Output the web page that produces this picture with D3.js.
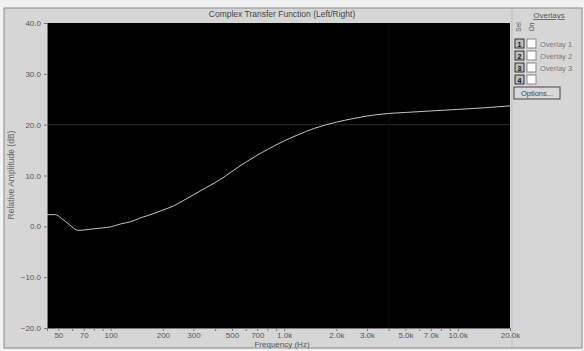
<!DOCTYPE html>
<html>
<head>
<meta charset="utf-8">
<script src="https://cdn.jsdelivr.net/npm/d3@7"></script>
<style>
  body { margin: 0; background: #fff; }
  svg { display: block; font-family: "Liberation Sans", Arial, sans-serif; }
</style>
</head>
<body>
<div id="chart"></div>
<script>
// Frequency response
var freqs = [43, 48, 52, 58, 65, 75, 90, 100, 115, 130, 150, 180, 200, 230, 260, 300, 350, 400, 450, 500,
             600, 700, 800, 1000, 1200, 1500, 2000, 2500, 3000, 4000, 5000, 7000, 10000, 14000, 20000];
var amps = [2.3, 2.3, 1.6, 0.3, -0.8, -0.6, -0.3, -0.1, 0.5, 0.9, 1.7, 2.6, 3.2, 4.0, 5.0, 6.2, 7.5, 8.6, 9.7, 10.8,
            12.6, 14.0, 15.1, 16.8, 18.0, 19.3, 20.5, 21.2, 21.7, 22.2, 22.4, 22.7, 23.0, 23.3, 23.7];

var yTicks = [40, 30, 20, 10, 0, -10, -20];
var xLabelTicks = [50, 70, 100, 200, 300, 500, 700, 1000, 2000, 3000, 5000, 7000, 10000, 20000];
var xMinorTicks = [50, 60, 70, 80, 90, 100, 200, 300, 400, 500, 600, 700, 800, 900,
                   1000, 2000, 3000, 4000, 5000, 6000, 7000, 8000, 9000, 10000, 20000];
var overlayNames = ["Overlay 1", "Overlay 2", "Overlay 3", ""];

var W = 584, H = 351;
var plot = {left: 47, right: 510, top: 23, bottom: 328};

var svg = d3.select("#chart").append("svg")
  .attr("width", W)
  .attr("height", H);

// window background
svg.append("rect").attr("width", W).attr("height", H).attr("fill", "#f2f2f2");
svg.append("rect")
  .attr("x", 4).attr("y", 8).attr("width", W - 6).attr("height", 340)
  .attr("fill", "#d6d6d6")
  .attr("stroke", "#8a8a8a");
svg.append("line")
  .attr("x1", 512).attr("x2", 512).attr("y1", 9).attr("y2", 347)
  .attr("stroke", "#bdbdbd");

var x = d3.scaleLog()
  .domain([43, 20000])
  .range([plot.left, plot.right]);

var y = d3.scaleLinear()
  .domain([-20, 40])
  .range([plot.bottom, plot.top]);

// black plot area
svg.append("rect")
  .attr("x", plot.left).attr("y", plot.top)
  .attr("width", plot.right - plot.left).attr("height", plot.bottom - plot.top)
  .attr("fill", "#000");

// faint reference lines
svg.append("line")
  .attr("x1", plot.left).attr("x2", plot.right)
  .attr("y1", y(20)).attr("y2", y(20))
  .attr("stroke", "#2a2a2a");
svg.append("line")
  .attr("x1", x(4000)).attr("x2", x(4000))
  .attr("y1", plot.top).attr("y2", plot.bottom)
  .attr("stroke", "#0d0d0d");

// y axis
var yAxis = d3.axisLeft(y)
  .tickValues(yTicks)
  .tickSize(3)
  .tickFormat(d3.format(".1f"));
var gy = svg.append("g")
  .attr("transform", "translate(" + plot.left + ",0)")
  .call(yAxis);
gy.select(".domain").attr("stroke", "#777");
gy.selectAll(".tick line").attr("stroke", "#777");
gy.selectAll("text")
  .attr("fill", "#555")
  .style("font-size", "8px");

// x axis
var xAxis = d3.axisBottom(x)
  .tickValues(xMinorTicks)
  .tickSize(3)
  .tickFormat(function(d) {
    if (xLabelTicks.indexOf(d) < 0) return "";
    return d >= 1000 ? (d / 1000).toFixed(1) + "k" : d;
  });
var gx = svg.append("g")
  .attr("transform", "translate(0," + plot.bottom + ")")
  .call(xAxis);
gx.select(".domain").attr("stroke", "#777");
gx.selectAll(".tick line").attr("stroke", "#777");
gx.selectAll("text")
  .attr("fill", "#555")
  .attr("dy", "0.55em")
  .style("font-size", "8px");

// curve
var line = d3.line()
  .x(function(d, i) { return x(freqs[i]); })
  .y(function(d) { return y(d); })
  .curve(d3.curveMonotoneX);
svg.append("path")
  .datum(amps)
  .attr("d", line)
  .attr("fill", "none")
  .attr("stroke", "#c4c4c4")
  .attr("stroke-width", 1);

// titles
svg.append("text")
  .attr("x", 282).attr("y", 17)
  .attr("text-anchor", "middle")
  .attr("fill", "#444")
  .style("font-size", "8.5px")
  .text("Complex Transfer Function (Left/Right)");

svg.append("text")
  .attr("x", 282).attr("y", 347)
  .attr("text-anchor", "middle")
  .attr("fill", "#555")
  .style("font-size", "8px")
  .text("Frequency (Hz)");

svg.append("text")
  .attr("transform", "translate(14,175) rotate(-90)")
  .attr("text-anchor", "middle")
  .attr("fill", "#666")
  .style("font-size", "8.5px")
  .text("Relative Amplitude (dB)");

// overlays panel
var panel = svg.append("g");
panel.append("text")
  .attr("x", 549).attr("y", 18)
  .attr("text-anchor", "middle")
  .attr("fill", "#555")
  .attr("text-decoration", "underline")
  .style("font-size", "8px")
  .text("Overlays");
panel.append("text")
  .attr("transform", "translate(521,27) rotate(-90)")
  .attr("text-anchor", "middle")
  .attr("fill", "#555")
  .style("font-size", "6.5px")
  .text("Sel");
panel.append("text")
  .attr("transform", "translate(534,27) rotate(-90)")
  .attr("text-anchor", "middle")
  .attr("fill", "#555")
  .style("font-size", "6.5px")
  .text("On");

var rows = panel.selectAll(".row")
  .data(overlayNames)
  .enter().append("g")
  .attr("class", "row")
  .attr("transform", function(d, i) { return "translate(0," + (39 + i * 12) + ")"; });
rows.append("rect")
  .attr("x", 515).attr("y", 0).attr("width", 9).attr("height", 9)
  .attr("fill", "#bbb").attr("stroke", "#333");
rows.append("text")
  .attr("x", 519.5).attr("y", 7.5)
  .attr("text-anchor", "middle")
  .attr("fill", "#111")
  .style("font-size", "7px")
  .style("font-weight", "bold")
  .text(function(d, i) { return i + 1; });
rows.append("rect")
  .attr("x", 527).attr("y", 0).attr("width", 9).attr("height", 9)
  .attr("fill", "#fff").attr("stroke", "#888");
rows.append("text")
  .attr("x", 540).attr("y", 7.5)
  .attr("fill", "#777")
  .style("font-size", "7.5px")
  .text(function(d) { return d; });

panel.append("rect")
  .attr("x", 514).attr("y", 87).attr("width", 46).attr("height", 12)
  .attr("fill", "#d8d8d8").attr("stroke", "#444");
panel.append("text")
  .attr("x", 537).attr("y", 96)
  .attr("text-anchor", "middle")
  .attr("fill", "#444")
  .style("font-size", "7.5px")
  .text("Options...");
</script>
</body>
</html>
